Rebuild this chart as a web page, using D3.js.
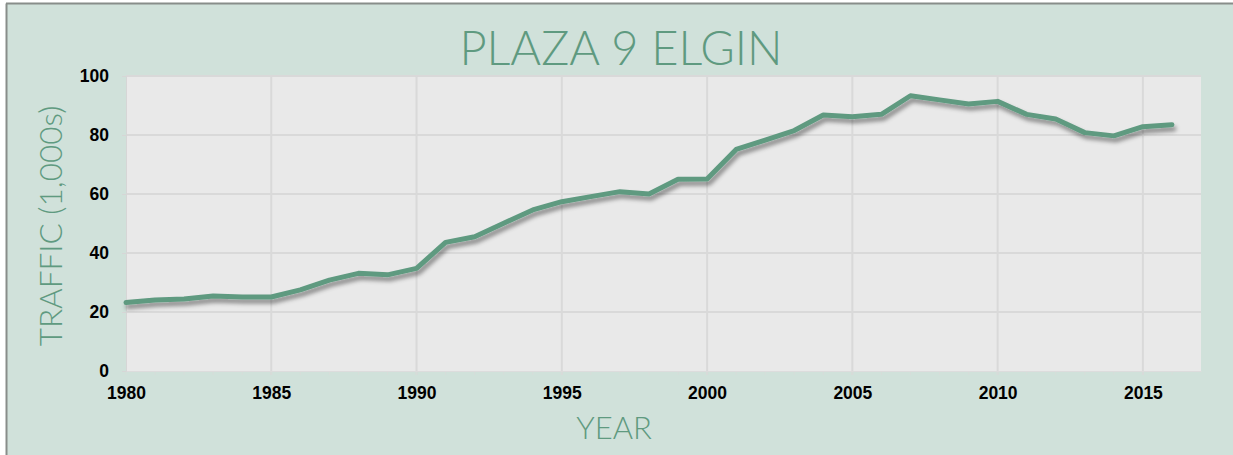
<!DOCTYPE html>
<html>
<head>
<meta charset="utf-8">
<script src="https://cdn.jsdelivr.net/npm/d3@7"></script>
<style>
html, body { margin: 0; padding: 0; background: #ffffff; }
svg { display: block; }
</style>
</head>
<body>
<svg id="chart" width="1233" height="455"></svg>
<script>
const years = [1980,1981,1982,1983,1984,1985,1986,1987,1988,1989,1990,1991,1992,1993,1994,1995,1996,1997,1998,1999,2000,2001,2002,2003,2004,2005,2006,2007,2008,2009,2010,2011,2012,2013,2014,2015,2016];
const traffic = [23.2,24.1,24.4,25.4,25.1,25.1,27.5,30.8,33.1,32.6,34.8,43.6,45.5,50.1,54.6,57.4,59.1,60.8,60.0,65.0,65.1,75.1,78.3,81.5,86.8,86.2,87.0,93.3,91.9,90.5,91.4,87.0,85.4,80.8,79.7,82.8,83.5];
const xTicks = [1980,1985,1990,1995,2000,2005,2010,2015];
const yTicks = [0,20,40,60,80,100];
const title = "PLAZA 9 ELGIN";
const xTitle = "YEAR";
const yTitle = "TRAFFIC (1,000s)";

const svg = d3.select("#chart");
const W = 1233, H = 455;
const m = {left: 126, top: 76, right: 1201, bottom: 371};

const green = "#5f9a80";
const thinFont = "Lato, 'Open Sans', sans-serif";

// chart background + border
svg.append("rect").attr("x", 7).attr("y", 4).attr("width", W).attr("height", H)
  .attr("fill", "#d0e1da");
svg.append("line").attr("x1", 6.5).attr("x2", 6.5).attr("y1", 3.5).attr("y2", H)
  .attr("stroke", "#888d8a").attr("stroke-width", 2);
svg.append("line").attr("x1", 6).attr("x2", W).attr("y1", 3.5).attr("y2", 3.5)
  .attr("stroke", "#888d8a").attr("stroke-width", 2);

const defs = svg.append("defs");
const f = defs.append("filter").attr("id", "shadow").attr("x", "-5%").attr("y", "-20%").attr("width", "110%").attr("height", "150%");
f.append("feDropShadow").attr("dx", 2).attr("dy", 4).attr("stdDeviation", 2.2)
  .attr("flood-color", "#000").attr("flood-opacity", 0.42);

const x = d3.scaleLinear().domain([1980, 2017]).range([m.left, m.right]);
const y = d3.scaleLinear().domain([0, 100]).range([m.bottom, m.top]);

// plot area
svg.append("rect").attr("x", m.left).attr("y", m.top)
  .attr("width", m.right - m.left).attr("height", m.bottom - m.top)
  .attr("fill", "#e9e9e9");

// gridlines
svg.append("g").selectAll("line").data(yTicks.slice(1)).join("line")
  .attr("x1", m.left).attr("x2", m.right)
  .attr("y1", d => y(d)).attr("y2", d => y(d))
  .attr("stroke", "#d9d9d9").attr("stroke-width", 2);
svg.append("g").selectAll("line").data(xTicks.slice(1)).join("line")
  .attr("x1", d => x(d)).attr("x2", d => x(d))
  .attr("y1", m.top).attr("y2", m.bottom + 4)
  .attr("stroke", "#d9d9d9").attr("stroke-width", 2);

// minor x tick marks (one per year)
svg.append("g").selectAll("line").data(years).join("line")
  .attr("x1", d => x(d)).attr("x2", d => x(d))
  .attr("y1", m.bottom).attr("y2", m.bottom + 4)
  .attr("stroke", "#d6ddd9").attr("stroke-width", 1);

// axes
const xAxis = d3.axisBottom(x).tickValues(xTicks).tickFormat(d3.format("d")).tickSize(0).tickPadding(16);
const gx = svg.append("g").attr("transform", `translate(0,${m.bottom})`).call(xAxis);
gx.select(".domain").attr("stroke", "#dcdcdc").attr("stroke-width", 1);
gx.selectAll("text").attr("font-family", "Arial, 'Liberation Sans', sans-serif")
  .attr("font-weight", "bold").attr("font-size", 17.5).attr("fill", "#000");

const yAxis = d3.axisLeft(y).tickValues(yTicks).tickSize(4).tickPadding(13);
const gy = svg.append("g").attr("transform", `translate(${m.left},0)`).call(yAxis);
gy.select(".domain").attr("stroke", "#d6d6d6").attr("stroke-width", 1);
gy.selectAll(".tick line").attr("stroke", "#d6d6d6");
gy.selectAll("text").attr("font-family", "Arial, 'Liberation Sans', sans-serif")
  .attr("font-weight", "bold").attr("font-size", 17.5).attr("fill", "#000");

// line
const line = d3.line().x((d, i) => x(years[i])).y(d => y(d));
svg.append("path").datum(traffic)
  .attr("d", line).attr("fill", "none")
  .attr("stroke", green).attr("stroke-width", 5)
  .attr("stroke-linejoin", "round").attr("stroke-linecap", "round")
  .attr("filter", "url(#shadow)");

// titles
svg.append("text").attr("x", 621).attr("y", 65).attr("text-anchor", "middle")
  .attr("font-family", thinFont).attr("font-weight", 300).attr("font-size", 47)
  .attr("fill", green).text(title);
svg.append("text").attr("x", 614).attr("y", 439).attr("text-anchor", "middle")
  .attr("font-family", thinFont).attr("font-weight", 300).attr("font-size", 31)
  .attr("fill", green).text(xTitle);
svg.append("text").attr("transform", "translate(62,226) rotate(-90)").attr("text-anchor", "middle")
  .attr("font-family", thinFont).attr("font-weight", 300).attr("font-size", 31.5)
  .attr("fill", green).text(yTitle);
</script>
</body>
</html>
